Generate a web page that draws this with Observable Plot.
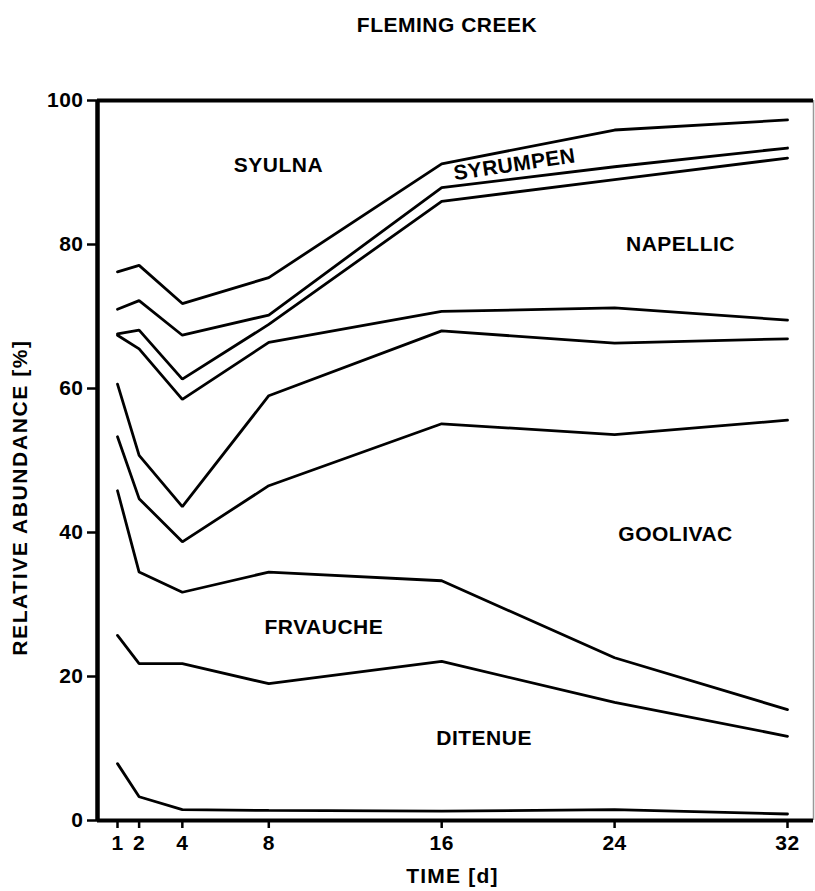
<!DOCTYPE html>
<html>
<head>
<meta charset="utf-8">
<script src="https://cdn.jsdelivr.net/npm/d3@7"></script>
<script src="https://cdn.jsdelivr.net/npm/@observablehq/plot@0.6"></script>
<style>
  body { margin: 0; background: #fff; font-family: "Liberation Sans", Arial, sans-serif; }
  #title { position: relative; width: 815px; height: 50px; }
  #title span { position: absolute; left: 447px; transform: translateX(-50%); line-height: 50px;
    font-size: 21px; font-weight: bold; letter-spacing: 0.5px; white-space: nowrap; color: #000; }
  svg text { letter-spacing: 0.5px; }
</style>
</head>
<body>
<div id="title"><span>FLEMING CREEK</span></div>
<div id="chart"></div>
<script>
// Sampling times (days)
const times = [1, 2, 4, 8, 16, 24, 32];

// Cumulative relative abundance (%) at each boundary line, bottom to top
const b1 = [7.9, 3.3, 1.5, 1.4, 1.3, 1.5, 0.9];       // top of lowest (unlabelled) band
const b2 = [25.7, 21.8, 21.8, 19.0, 22.1, 16.4, 11.7]; // top of DITENUE
const b3 = [45.8, 34.5, 31.7, 34.5, 33.3, 22.6, 15.4]; // top of FRVAUCHE
const b4 = [53.3, 44.7, 38.7, 46.5, 55.1, 53.6, 55.6]; // top of GOOLIVAC
const b5 = [60.6, 50.7, 43.6, 59.0, 68.0, 66.3, 66.9];
const b6 = [67.4, 65.5, 58.5, 66.4, 70.7, 71.2, 69.5];
const b7 = [67.6, 68.1, 61.3, 68.9, 86.0, 89.0, 92.0]; // top of NAPELLIC
const b8 = [71.0, 72.2, 67.4, 70.2, 87.9, 90.8, 93.4];
const b9 = [76.2, 77.1, 71.8, 75.4, 91.2, 95.9, 97.3]; // top of SYRUMPEN

const boundaryNames = ["b1", "b2", "b3", "b4", "b5", "b6", "b7", "b8", "b9"];
const boundaryValues = [b1, b2, b3, b4, b5, b6, b7, b8, b9];

// Band labels (placed in data coordinates: time, %)
const labelNames = ["SYULNA", "NAPELLIC", "GOOLIVAC", "FRVAUCHE", "DITENUE"];
const labelT = [8.45, 27.05, 26.82, 10.55, 17.96];
const labelV = [91.0, 80.0, 39.7, 26.8, 11.4];
const slantedName = ["SYRUMPEN"];
const slantedT = [19.37];
const slantedV = [91.1];

const xTicks = [1, 2, 4, 8, 16, 24, 32];
const yTicks = [0, 20, 40, 60, 80, 100];
const xDomain = [0.0746, 33.203];
const yDomain = [0, 100];
const xTitle = "TIME [d]";
const yTitle = "RELATIVE ABUNDANCE [%]";

const rows = [];
boundaryNames.forEach((name, i) => {
  times.forEach((t, j) => rows.push({line: name, t, v: boundaryValues[i][j]}));
});
const labels = labelNames.map((name, i) => ({name, t: labelT[i], v: labelV[i]}));
const slanted = slantedName.map((name, i) => ({name, t: slantedT[i], v: slantedV[i]}));

const chart = Plot.plot({
  width: 815,
  height: 841,
  marginLeft: 97,
  marginRight: 2,
  marginTop: 50,
  marginBottom: 71,
  style: {fontFamily: "Liberation Sans, Arial, sans-serif", fontSize: "21px", fontWeight: "bold", color: "#000", background: "#fff"},
  x: {domain: xDomain},
  y: {domain: yDomain},
  marks: [
    Plot.axisX({ticks: xTicks, tickSize: 8, tickPadding: 7, strokeWidth: 2.5, label: null}),
    Plot.axisY({ticks: yTicks, tickSize: 10, tickPadding: 4, strokeWidth: 2.5, label: null}),
    Plot.ruleX([xDomain[1]], {stroke: "#999", strokeWidth: 1.5}),
    Plot.ruleX([xDomain[0]], {stroke: "#000", strokeWidth: 4.5}),
    Plot.ruleY([yDomain[0]], {stroke: "#000", strokeWidth: 4}),
    Plot.ruleY([yDomain[1]], {stroke: "#000", strokeWidth: 4}),
    Plot.line(rows, {x: "t", y: "v", z: "line", stroke: "#000", strokeWidth: 2.8, strokeLinejoin: "miter"}),
    Plot.text(labels, {x: "t", y: "v", text: "name", fill: "#000"}),
    Plot.text(slanted, {x: "t", y: "v", text: "name", fill: "#000", rotate: -8.5}),
    Plot.text([xTitle], {frameAnchor: "bottom", textAnchor: "middle", dx: -3, dy: 62, fill: "#000"}),
    Plot.text([yTitle], {frameAnchor: "left", textAnchor: "middle", rotate: -90, dx: -77, dy: 37, fill: "#000"})
  ]
});
d3.select(chart).selectAll("text").filter(function() { return this.textContent === yTitle; })
  .style("letter-spacing", "1.6px");
d3.select(chart).selectAll("text").filter(function() { return this.textContent === xTitle; })
  .style("letter-spacing", "1.2px");
document.getElementById("chart").appendChild(chart);
</script>
</body>
</html>
